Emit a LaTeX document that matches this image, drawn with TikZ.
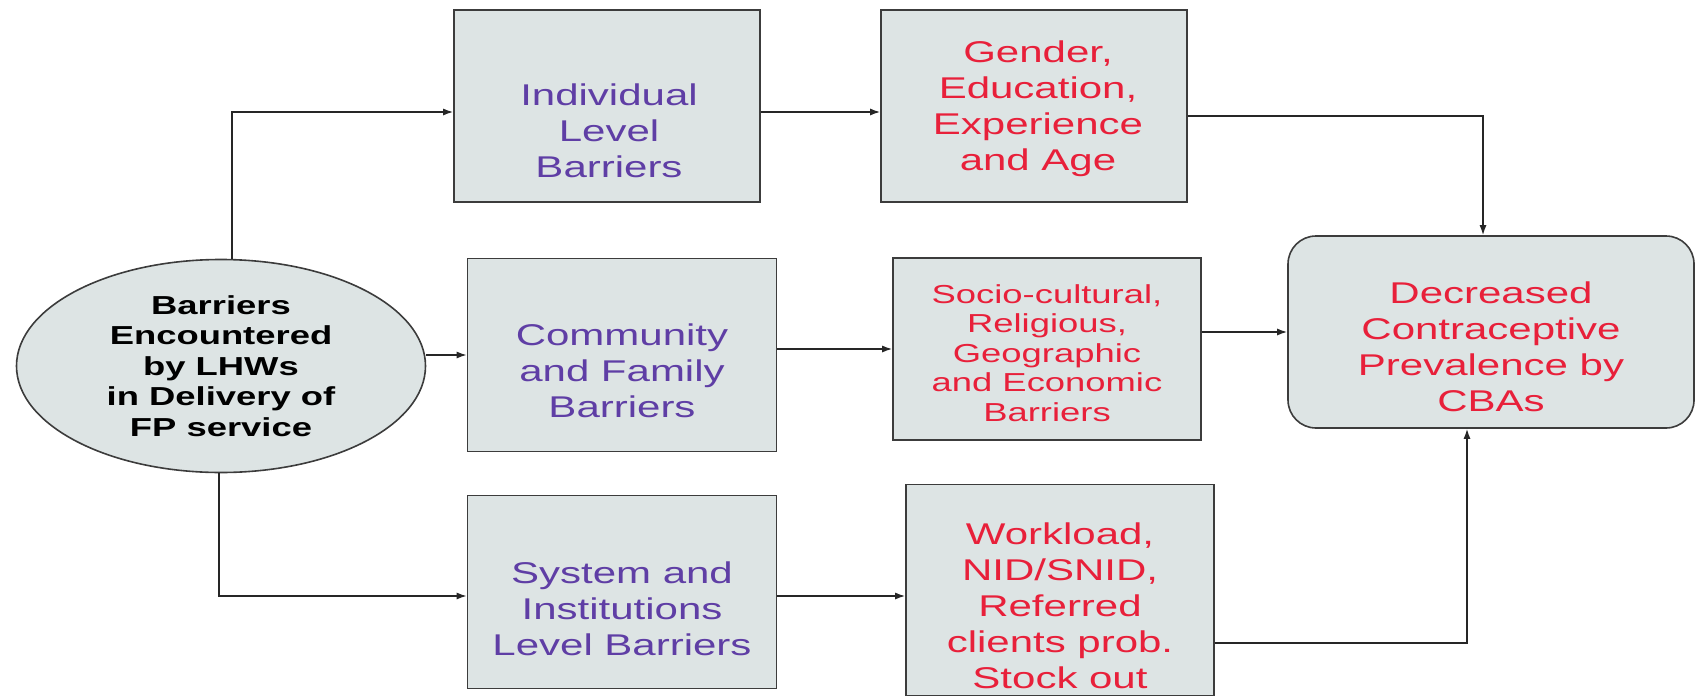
\documentclass[tikz,border=0pt]{standalone}
\usepackage{fontspec}
\newfontfamily\dfont[FakeStretch=1.4]{Liberation Sans}
\usetikzlibrary{arrows.meta,calc,shapes.geometric}
\definecolor{boxfill}{RGB}{221,228,228}
\definecolor{purp}{RGB}{95,62,165}
\definecolor{redt}{RGB}{232,32,58}
\definecolor{edge}{RGB}{60,60,60}
\begin{document}
\begin{tikzpicture}[x=1pt,y=-1pt,
  box/.style={draw=edge,line width=1.6pt,fill=boxfill,inner sep=0pt},
  lbl/.style={align=center,inner sep=0pt,font=\dfont\fontsize{30}{36}\selectfont},
  slbl/.style={align=center,inner sep=0pt,font=\dfont\fontsize{26}{29.5}\selectfont},
  arr/.style={draw=black!85,line width=1.4pt,-{Latex[length=10pt,width=7pt]}}]
\useasboundingbox (0,0) rectangle (1696,696);
% central ellipse
\node[box,ellipse,minimum width=409pt,minimum height=213pt,align=center,
      font=\dfont\bfseries\fontsize{26}{30.5}\selectfont] (ell) at (221,366)
  {Barriers\\Encountered\\by LHWs\\in Delivery of\\FP service};
% boxes
\node[box,minimum width=306pt,minimum height=192pt] (ind) at (607,106) {};
\node[box,minimum width=306pt,minimum height=192pt] (gen) at (1034,106) {};
\node[box,minimum width=309pt,minimum height=193pt] (com) at (622,355) {};
\node[box,minimum width=308pt,minimum height=182pt] (soc) at (1047,349) {};
\node[box,minimum width=309pt,minimum height=193pt] (sys) at (622,592) {};
\node[box,minimum width=308pt,minimum height=211pt] (wor) at (1060,590) {};
\node[box,rounded corners=28pt,minimum width=406pt,minimum height=192pt] (dec) at (1491,332) {};
% texts
\node[lbl,text=purp] (indt) at (609,131) {Individual\\Level\\Barriers};
\node[lbl,text=redt] (gent) at (1038,109) {Gender,\\Education,\\Experience\\and Age};
\node[lbl,text=purp] (comt) at (622,371) {Community\\and Family\\Barriers};
\node[slbl,text=redt] (soct) at (1047,353) {Socio-cultural,\\Religious,\\Geographic\\and Economic\\Barriers};
\node[lbl,text=purp] (syst) at (622,609) {System and\\Institutions\\Level Barriers};
\node[lbl,text=redt] (wort) at (1060,606) {Workload,\\NID/SNID,\\Referred\\clients prob.\\Stock out};
\node[lbl,text=redt] (dect) at (1491,347) {Decreased\\Contraceptive\\Prevalence by\\CBAs};
% connectors
\draw[arr] ([xshift=11pt]ell.north) |- ($(ind.west)+(0,6)$);
\draw[arr] (ell.east |- com.west) -- (com.west);
\draw[arr] ([xshift=-2pt]ell.south) |- ($(sys.west)+(0,4)$);
\draw[arr] ($(ind.east)+(0,6)$) -- ($(gen.west)+(0,6)$);
\draw[arr] ($(gen.east)+(0,10)$) -| ([xshift=-8pt]dec.north);
\draw[arr] (com.east |- soc.west) -- (soc.west);
\draw[arr] (soc.east |- dec.west) -- (dec.west);
\draw[arr] ($(sys.east)+(0,4)$) -- ($(wor.west)+(0,6)$);
\draw[arr] ($(wor.east)+(0,53)$) -| ([xshift=-24pt]dec.south);
\end{tikzpicture}
\end{document}
